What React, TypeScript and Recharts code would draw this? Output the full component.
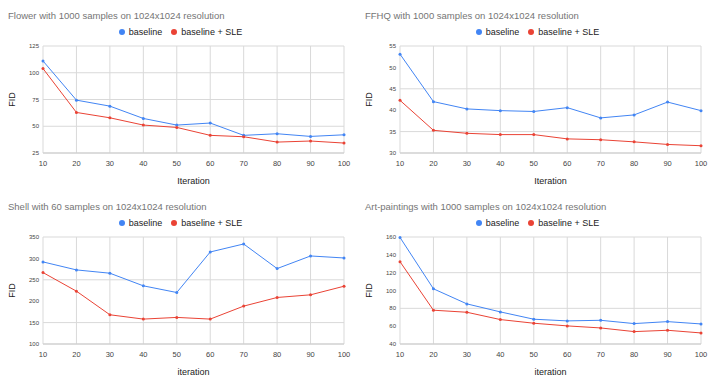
import { LineChart, Line, XAxis, YAxis, CartesianGrid } from "recharts";

const iterations = [10, 20, 30, 40, 50, 60, 70, 80, 90, 100];

const flowerBaseline = [111, 74.4, 68.8, 57.3, 51.1, 53, 41.5, 43, 40.5, 42];
const flowerSle = [103.9, 62.9, 57.9, 51.1, 48.9, 41.5, 40.2, 35.2, 36.2, 34.3];
const flowerTicks = [25, 50, 75, 100, 125];

const ffhqBaseline = [53.1, 42, 40.3, 39.9, 39.7, 40.6, 38.2, 38.9, 41.9, 39.9];
const ffhqSle = [42.3, 35.3, 34.6, 34.3, 34.3, 33.3, 33.1, 32.6, 32, 31.7];
const ffhqTicks = [30, 35, 40, 45, 50, 55];

const shellBaseline = [291.8, 273.1, 265.4, 235.9, 220.3, 315, 333.7, 276.2, 305.7, 301];
const shellSle = [266.9, 223.4, 168.3, 158.2, 162.1, 158.2, 188.5, 208.7, 214.9, 235];
const shellTicks = [100, 150, 200, 250, 300, 350];

const artBaseline = [159.5, 101.9, 85, 76, 67.8, 65.9, 66.6, 62.9, 65.1, 62.5];
const artSle = [132.3, 77.9, 75.6, 67.4, 63.3, 60.3, 58, 53.9, 55.4, 52.4];
const artTicks = [40, 60, 80, 100, 120, 140, 160];

const BLUE = "#4285f4";
const RED = "#ea4335";
const FONT = "'Liberation Sans', Arial, sans-serif";

type PanelProps = {
  title: string;
  baseline: number[];
  sle: number[];
  ticks: number[];
  xLabel: string;
};

function Panel({ title, baseline, sle, ticks, xLabel }: PanelProps) {
  const data = iterations.map((it, i) => ({
    it,
    baseline: baseline[i],
    sle: sle[i],
  }));
  const dot = (color: string) => ({ r: 1.5, fill: color, stroke: color, strokeWidth: 0 });

  return (
    <div style={{ position: "relative", width: 357, height: 191, fontFamily: FONT }}>
      <div
        style={{
          position: "absolute",
          left: 8,
          top: 10,
          fontSize: 9.5,
          color: "#757575",
          whiteSpace: "nowrap",
        }}
      >
        {title}
      </div>
      <div
        style={{
          position: "absolute",
          left: 2,
          width: 357,
          top: 27,
          display: "flex",
          justifyContent: "center",
          gap: 9,
          fontSize: 9,
          color: "#222",
        }}
      >
        {[
          ["baseline", BLUE],
          ["baseline + SLE", RED],
        ].map(([name, c]) => (
          <span key={name} style={{ display: "flex", alignItems: "center", gap: 4 }}>
            <span
              style={{ width: 6, height: 6, borderRadius: 3, background: c, display: "inline-block" }}
            />
            {name}
          </span>
        ))}
      </div>
      <LineChart
        width={357}
        height={191}
        data={data}
        margin={{ top: 46, right: 13, bottom: 4, left: 0 }}
      >
        <CartesianGrid stroke="#d9d9d9" strokeWidth={1} />
        <XAxis
          dataKey="it"
          tickLine={false}
          axisLine={{ stroke: "#cccccc" }}
          tick={{ fontSize: 7.5, fill: "#444", fontFamily: FONT }}
          tickMargin={2}
          height={34}
          interval={0}
          label={{
            value: xLabel,
            position: "insideBottom",
            offset: 3,
            style: { fontSize: 9, fill: "#222", fontFamily: FONT },
          }}
        />
        <YAxis
          width={43}
          domain={[ticks[0], ticks[ticks.length - 1]]}
          ticks={ticks}
          tickLine={false}
          axisLine={false}
          tickSize={2}
          tick={{ fontSize: 6, fill: "#444", fontFamily: FONT }}
          label={{
            value: "FID",
            angle: -90,
            position: "insideLeft",
            offset: 12,
            style: { fontSize: 9, fill: "#222", fontFamily: FONT, textAnchor: "middle" },
          }}
        />
        <Line
          dataKey="baseline"
          stroke={BLUE}
          strokeWidth={1}
          dot={dot(BLUE)}
          activeDot={false}
          isAnimationActive={false}
        />
        <Line
          dataKey="sle"
          stroke={RED}
          strokeWidth={1}
          dot={dot(RED)}
          activeDot={false}
          isAnimationActive={false}
        />
      </LineChart>
    </div>
  );
}

export default function App() {
  return (
    <div
      style={{
        position: "absolute",
        left: 0,
        top: 0,
        width: 714,
        height: 382,
        background: "#fff",
        display: "grid",
        gridTemplateColumns: "357px 357px",
        gridTemplateRows: "191px 191px",
      }}
    >
      <Panel
        title="Flower with 1000 samples on 1024x1024 resolution"
        baseline={flowerBaseline}
        sle={flowerSle}
        ticks={flowerTicks}
        xLabel="Iteration"
      />
      <Panel
        title="FFHQ with 1000 samples on 1024x1024 resolution"
        baseline={ffhqBaseline}
        sle={ffhqSle}
        ticks={ffhqTicks}
        xLabel="Iteration"
      />
      <Panel
        title="Shell with 60 samples on 1024x1024 resolution"
        baseline={shellBaseline}
        sle={shellSle}
        ticks={shellTicks}
        xLabel="iteration"
      />
      <Panel
        title="Art-paintings with 1000 samples on 1024x1024 resolution"
        baseline={artBaseline}
        sle={artSle}
        ticks={artTicks}
        xLabel="iteration"
      />
    </div>
  );
}
